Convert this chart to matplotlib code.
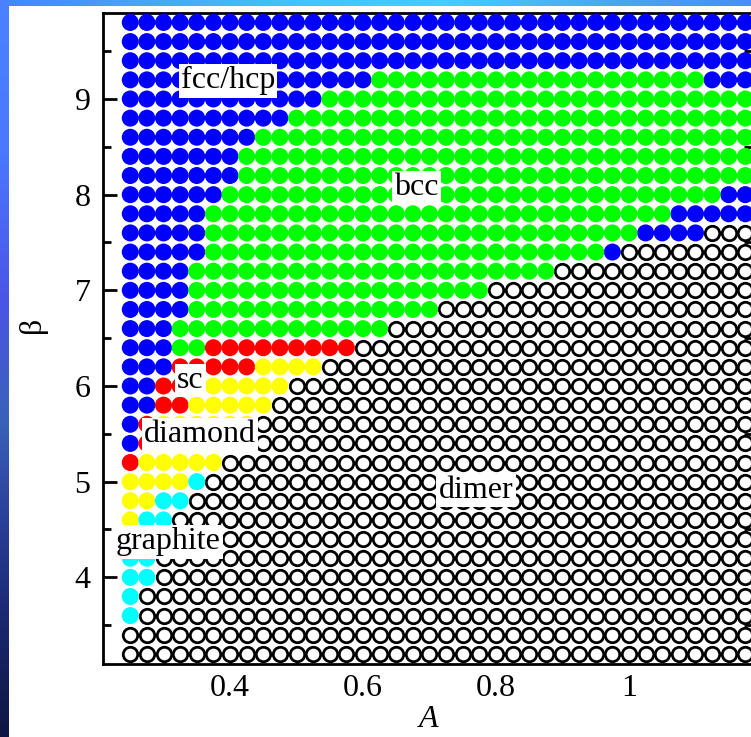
import numpy as np
import matplotlib
matplotlib.use("Agg")
import matplotlib.pyplot as plt
from matplotlib.ticker import MultipleLocator, FuncFormatter

# grid of the phase map: A along x, beta along y (top row first)
A_values = np.round(np.arange(0.25, 1.176, 0.025), 3)
beta_values = np.round(np.arange(9.8, 3.19, -0.2), 2)

# F = fcc/hcp, B = bcc, S = sc, D = diamond, G = graphite, M = dimer
phase_rows = [
    "F" * 38,
    "F" * 38,
    "F" * 38,
    "F" * 15 + "B" * 20 + "F" * 3,
    "F" * 12 + "B" * 26,
    "F" * 10 + "B" * 28,
    "F" * 8 + "B" * 30,
    "F" * 7 + "B" * 31,
    "F" * 7 + "B" * 31,
    "F" * 6 + "B" * 30 + "F" * 2,
    "F" * 5 + "B" * 28 + "F" * 5,
    "F" * 5 + "B" * 26 + "F" * 4 + "M" * 3,
    "F" * 5 + "B" * 24 + "F" * 1 + "M" * 8,
    "F" * 4 + "B" * 22 + "M" * 12,
    "F" * 4 + "B" * 18 + "M" * 16,
    "F" * 4 + "B" * 15 + "M" * 19,
    "F" * 3 + "B" * 13 + "M" * 22,
    "F" * 3 + "B" * 2 + "S" * 9 + "M" * 24,
    "F" * 3 + "S" * 5 + "D" * 4 + "M" * 26,
    "F" * 2 + "S" * 3 + "D" * 5 + "M" * 28,
    "F" * 2 + "S" * 2 + "D" * 5 + "M" * 29,
    "F" * 1 + "S" * 1 + "D" * 6 + "M" * 30,
    "F" * 1 + "S" * 1 + "D" * 5 + "M" * 31,
    "S" * 1 + "D" * 5 + "M" * 32,
    "D" * 4 + "G" * 1 + "M" * 33,
    "D" * 2 + "G" * 2 + "M" * 34,
    "D" * 1 + "G" * 2 + "M" * 35,
    "G" * 2 + "M" * 36,
    "G" * 2 + "M" * 36,
    "G" * 2 + "M" * 36,
    "G" * 1 + "M" * 37,
    "G" * 1 + "M" * 37,
    "M" * 38,
    "M" * 38,
]

phase_colors = {"F": "#0000ff", "B": "#00ff00", "S": "#ff0000",
                "D": "#ffff00", "G": "#00ffff"}

labels = ["fcc/hcp", "bcc", "sc", "diamond", "graphite", "dimer"]
label_A = [0.397, 0.68, 0.34, 0.355, 0.307, 0.77]
label_beta = [9.19, 8.07, 6.06, 5.49, 4.37, 4.91]

plt.rcParams["font.family"] = ["Liberation Serif", "DejaVu Serif"]

fig = plt.figure(figsize=(7.51, 7.37), dpi=100)

# slide background strips (left and top)
left_strip = fig.add_axes([0, 0, 9 / 751, 1])
stops_y = [0, 150, 300, 420, 520, 620, 737]
stops_c = np.array([[74, 130, 255], [74, 120, 255], [74, 85, 230],
                    [58, 98, 184], [42, 63, 152], [26, 40, 112], [14, 22, 64]]) / 255
yy = np.arange(737)
grad = np.stack([np.interp(yy, stops_y, stops_c[:, k]) for k in range(3)], axis=1)
left_strip.imshow(grad[:, None, :], aspect="auto")
left_strip.axis("off")

top_strip = fig.add_axes([0, 1 - 6 / 737, 1, 6 / 737])
stops_x = [0, 120, 300, 450, 600, 751]
stops_t = np.array([[74, 130, 255], [70, 160, 250], [60, 200, 248],
                    [64, 208, 248], [70, 170, 245], [74, 140, 250]]) / 255
xx = np.arange(751)
gradt = np.stack([np.interp(xx, stops_x, stops_t[:, k]) for k in range(3)], axis=1)
top_strip.imshow(gradt[None, :, :], aspect="auto")
top_strip.axis("off")

ax = fig.add_axes([103 / 751, 73 / 737, 649 / 751, 651.3 / 737])

AA, BB = np.meshgrid(A_values, beta_values)
grid = np.array([list(r) for r in phase_rows])

mask = grid == "M"
ax.scatter(AA[mask], BB[mask], s=108, facecolors="white", edgecolors="black",
           linewidths=2.0, zorder=2)
for code, col in phase_colors.items():
    mask = grid == code
    ax.scatter(AA[mask], BB[mask], s=150, c=col, edgecolors="none", zorder=3)

for txt, xa, yb in zip(labels, label_A, label_beta):
    ax.text(xa, yb, txt, fontsize=23, ha="center", va="center", zorder=5,
            bbox=dict(facecolor="white", edgecolor="none", pad=1.5))

ax.set_xlim(0.209, 1.185)
ax.set_ylim(3.094, 9.902)

ax.xaxis.set_major_locator(MultipleLocator(0.2))
ax.xaxis.set_minor_locator(MultipleLocator(0.1))
ax.yaxis.set_major_locator(MultipleLocator(1))
ax.yaxis.set_minor_locator(MultipleLocator(0.5))
ax.xaxis.set_major_formatter(FuncFormatter(lambda v, p: "{:g}".format(round(v, 3))))

ax.tick_params(which="both", direction="in", top=True, right=True, width=2,
               labelsize=23)
ax.tick_params(which="major", length=10)
ax.tick_params(which="minor", length=6)
ax.tick_params(axis="x", pad=7)
ax.tick_params(axis="y", pad=9)
for sp in ax.spines.values():
    sp.set_linewidth(2)

ax.set_xlabel("A", fontsize=23, fontstyle="italic")
ax.xaxis.set_label_coords(0.502, -0.063)
ax.set_ylabel("β", fontsize=23)
ax.yaxis.set_label_coords(-0.086, 0.52)

fig.savefig("out.png", dpi=100)
